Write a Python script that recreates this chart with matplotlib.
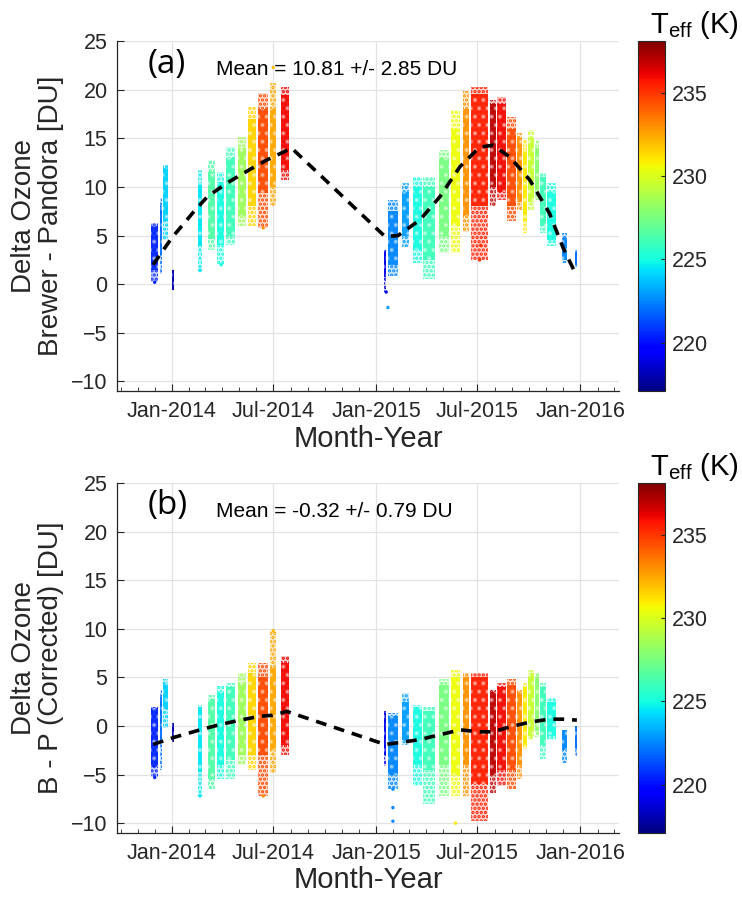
import numpy as np
import matplotlib
matplotlib.use("Agg")
import matplotlib.pyplot as plt
import matplotlib.dates as mdates
from matplotlib.cm import ScalarMappable
from matplotlib.colors import Normalize

plt.rcParams['font.family'] = ['Liberation Sans', 'DejaVu Sans']
plt.rcParams['hatch.linewidth'] = 1.6

# days since 2014-01-01, width (days) of each cluster of daily measurements
days = [-32, -20, -12, 2, 50, 70, 87, 105, 125, 143, 163, 181, 202,
        381, 395, 418, 439, 460, 486, 507, 526, 550, 574, 589, 607, 621, 631,
        642, 653, 664, 679, 702, 722]
span = [14, 5, 9, 3, 10, 14, 14, 18, 18, 18, 21, 12, 18,
        5, 22, 14, 18, 24, 21, 20, 13, 34, 12, 18, 18, 11, 9,
        13, 9, 12, 18, 11, 4]
teff = [220.5, 222, 224, 218, 224.5, 226.5, 225, 226, 228.5, 231.5, 234.5, 232.5, 236,
        219, 222.5, 223, 225, 226, 227.5, 230.5, 233, 235.5, 237, 236, 234.5, 233, 231,
        229.5, 228, 226, 225, 222.5, 222]

# panel (a): Brewer - Pandora, outer spread and dense core
a_lo = [0.2, 1.0, 4.5, -0.6, 1.4, 3.5, 2.0, 4.0, 6.0, 6.0, 5.8, 8.0, 10.7,
        -0.8, 0.8, 3.8, 2.2, 0.5, 3.2, 3.2, 5.4, 2.5, 8.0, 8.7, 6.5, 7.6, 5.3,
        7.6, 8.7, 5.3, 3.9, 2.2, 1.8]
a_hi = [6.3, 8.9, 12.3, 1.5, 11.8, 12.8, 11.5, 14.1, 15.1, 18.2, 19.7, 20.7, 20.3,
        3.5, 8.7, 10.4, 11.0, 11.0, 13.8, 17.9, 19.9, 20.3, 19.0, 19.3, 17.2, 15.6, 14.8,
        15.9, 14.7, 11.4, 10.4, 5.3, 3.5]
a_clo = [1.5, 3.0, 6.5, -0.6, 3.9, 4.6, 4.0, 5.0, 7.0, 8.0, 9.4, 10.0, 11.8,
         0.7, 2.0, 5.0, 3.5, 2.5, 5.0, 6.0, 7.0, 8.0, 10.0, 9.5, 8.0, 8.5, 6.5,
         8.5, 9.5, 6.0, 4.5, 2.5, 1.8]
a_chi = [6.0, 8.0, 12.0, 1.5, 10.5, 11.5, 10.5, 13.0, 14.0, 17.0, 18.0, 18.0, 19.5,
         3.5, 7.5, 9.5, 10.0, 10.0, 13.0, 16.0, 18.0, 19.6, 18.5, 18.5, 16.0, 15.0, 14.0,
         15.0, 14.0, 11.0, 9.5, 4.8, 3.5]

# panel (b): B - P corrected
b_lo = [-5.3, -4.5, -0.2, -1.6, -7.2, -6.5, -5.5, -5.5, -4.0, -4.5, -7.2, -4.8, -3.0,
        -4.1, -6.5, -2.0, -6.2, -8.0, -7.2, -7.2, -7.2, -9.8, -6.9, -6.2, -6.5, -5.5, -2.4,
        -1.4, -1.1, -3.4, -1.4, -3.8, -3.1]
b_hi = [2.0, 3.7, 4.8, 0.3, 2.2, 3.2, 4.1, 4.4, 5.4, 6.5, 6.5, 9.8, 7.2,
        1.5, 1.3, 3.4, 2.2, 2.0, 4.8, 5.8, 5.5, 5.5, 3.7, 4.4, 4.8, 3.7, 4.4,
        5.8, 5.5, 4.4, 2.9, -0.4, 0.0]
b_clo = [-4.2, -1.4, 1.7, -1.6, -4.7, -5.5, -4.0, -3.5, -3.0, -3.0, -3.0, -2.5, -2.0,
         -3.0, -5.0, -1.4, -4.0, -4.5, -4.0, -5.0, -4.0, -6.0, -5.0, -4.5, -4.5, -4.0, -2.0,
         -1.0, -0.5, -2.0, -1.0, -2.5, -2.5]
b_chi = [1.9, 3.0, 4.5, 0.3, 2.0, 2.8, 3.5, 4.0, 4.5, 5.5, 5.0, 6.0, 6.5,
         1.3, 1.0, 2.5, 2.0, 1.5, 4.2, 5.0, 5.0, 5.0, 3.5, 4.0, 4.2, 3.5, 4.0,
         5.5, 5.0, 4.0, 2.5, -0.4, 0.0]

# isolated points
a_out_day = [-31, 50, 88, 163, 181, 383, 386, 550, 552]
a_out_val = [0.2, 1.4, 2.0, 5.8, 22.3, -0.8, -2.4, 2.5, 4.0]
a_out_teff = [220.5, 224.5, 225, 233, 232, 219, 223, 235, 235]
b_out_day = [-31, 50, 395, 395, 395, 507, 181, 163]
b_out_val = [-5.3, -7.2, -6.5, -8.4, -9.8, -10.0, 9.8, -7.2]
b_out_teff = [220.5, 224.5, 222.5, 222.5, 222.5, 231, 232, 233]

# monthly means (dashed line)
a_mean_day = [-34, 0, 38, 63, 98, 139, 170, 214, 381, 404, 443, 479, 515, 550, 574, 604, 640, 675, 699, 724]
a_mean_val = [2.0, 4.8, 7.4, 9.0, 10.4, 11.8, 12.8, 14.0, 4.9, 5.0, 6.6, 9.0, 12.1, 14.1, 14.3, 13.1, 10.7, 7.3, 3.8, 0.8]
b_mean_day = [-34, 2, 50, 86, 122, 157, 180, 205, 381, 408, 443, 479, 515, 550, 574, 604, 640, 675, 699, 724]
b_mean_val = [-1.9, -1.2, -0.4, 0.15, 0.6, 1.0, 1.1, 1.5, -1.9, -1.7, -1.4, -0.9, -0.4, -0.6, -0.6, -0.1, 0.4, 0.7, 0.7, 0.6]

mean_text = ['Mean = 10.81 +/- 2.85 DU', 'Mean = -0.32 +/- 0.79 DU']
panel_tags = ['(a)', '(b)']
ylabels = ['Delta Ozone\nBrewer - Pandora [DU]', 'Delta Ozone\nB - P (Corrected) [DU]']

cmap = plt.get_cmap('jet')
norm = Normalize(vmin=217.1, vmax=238.1)
t0 = mdates.date2num(np.datetime64('2014-01-01'))
ink = '#262626'

fig = plt.figure(figsize=(7.42, 8.97), dpi=100)
axes = [fig.add_axes([0.158, 0.564, 0.676, 0.390]),
        fig.add_axes([0.158, 0.0715, 0.676, 0.390])]

series = [(a_lo, a_hi, a_clo, a_chi, a_out_day, a_out_val, a_out_teff, a_mean_day, a_mean_val),
          (b_lo, b_hi, b_clo, b_chi, b_out_day, b_out_val, b_out_teff, b_mean_day, b_mean_val)]

for i, ax in enumerate(axes):
    lo, hi, clo, chi, od, ov, ot, md, mv = series[i]
    x = t0 + np.array(days, dtype=float)
    w = np.array(span, dtype=float) * 0.88
    cols = cmap(norm(np.array(teff)))
    # sparse part of each cloud: dotted fill
    for xi, wi, l, h, c in zip(x, w, lo, hi, cols):
        ax.bar(xi, h - l, bottom=l, width=wi, facecolor=(*c[:3], 0.18), edgecolor=c,
               hatch='....', linewidth=0, zorder=2)
    # dense core, lightly speckled
    core_h = np.array(chi) - np.array(clo)
    ax.bar(x, core_h, bottom=clo, width=w, color=cols, alpha=0.9, linewidth=0, zorder=3)
    ax.bar(x, core_h, bottom=clo, width=w, facecolor='none', edgecolor=(1, 1, 1, 0.45),
           hatch='..', linewidth=0, zorder=3.5)
    ax.scatter(t0 + np.array(od, dtype=float), ov, c=ot, cmap=cmap, norm=norm, s=6,
               linewidths=0, zorder=3)
    ax.plot(t0 + np.array(md, dtype=float), mv, color='black', linestyle=(0, (3, 2.2)),
            linewidth=2.6, zorder=4)

    ax.set_xlim(t0 - 98, t0 + 799)
    ax.set_ylim(-11, 25)
    ax.set_yticks([-10, -5, 0, 5, 10, 15, 20, 25])
    ax.xaxis.set_major_locator(mdates.MonthLocator(bymonth=[1, 7]))
    ax.xaxis.set_major_formatter(mdates.DateFormatter('%b-%Y'))
    ax.xaxis.set_minor_locator(mdates.MonthLocator())
    ax.grid(True, which='major', color='#e3e3e3', linewidth=0.9, zorder=0)
    ax.set_axisbelow(True)
    for side in ['top', 'right']:
        ax.spines[side].set_visible(False)
    for side in ['left', 'bottom']:
        ax.spines[side].set_color(ink)
        ax.spines[side].set_linewidth(0.9)
    ax.tick_params(axis='both', which='major', direction='in', length=5, labelsize=15.5,
                   colors=ink, pad=7)
    ax.tick_params(axis='x', which='minor', direction='in', length=3, color=ink)
    ax.set_xlabel('Month-Year', fontsize=21, color=ink, labelpad=2)
    ax.set_ylabel(ylabels[i], fontsize=20, color=ink, linespacing=1.05, labelpad=5)
    ax.text(0.06, 0.935, panel_tags[i], transform=ax.transAxes, fontsize=24,
            family=['Open Sans', 'DejaVu Sans'], va='center', ha='left', color='black')
    ax.text(0.196, 0.918, mean_text[i], transform=ax.transAxes, fontsize=15,
            va='center', ha='left', color='black')

    pos = ax.get_position()
    cax = fig.add_axes([0.860, pos.y0, 0.036, pos.height])
    cb = fig.colorbar(ScalarMappable(norm=norm, cmap=cmap), cax=cax)
    cb.set_ticks([220, 225, 230, 235])
    cb.ax.tick_params(labelsize=15.5, direction='in', length=3, colors=ink, pad=5)
    cb.outline.set_edgecolor(ink)
    cb.outline.set_linewidth(0.8)
    cax.text(0.45, 1.0, r'T$_{\mathregular{eff}}$ (K)', transform=cax.transAxes,
             fontsize=21, ha='left', va='bottom', color='black')

fig.savefig('out.png', dpi=100)
